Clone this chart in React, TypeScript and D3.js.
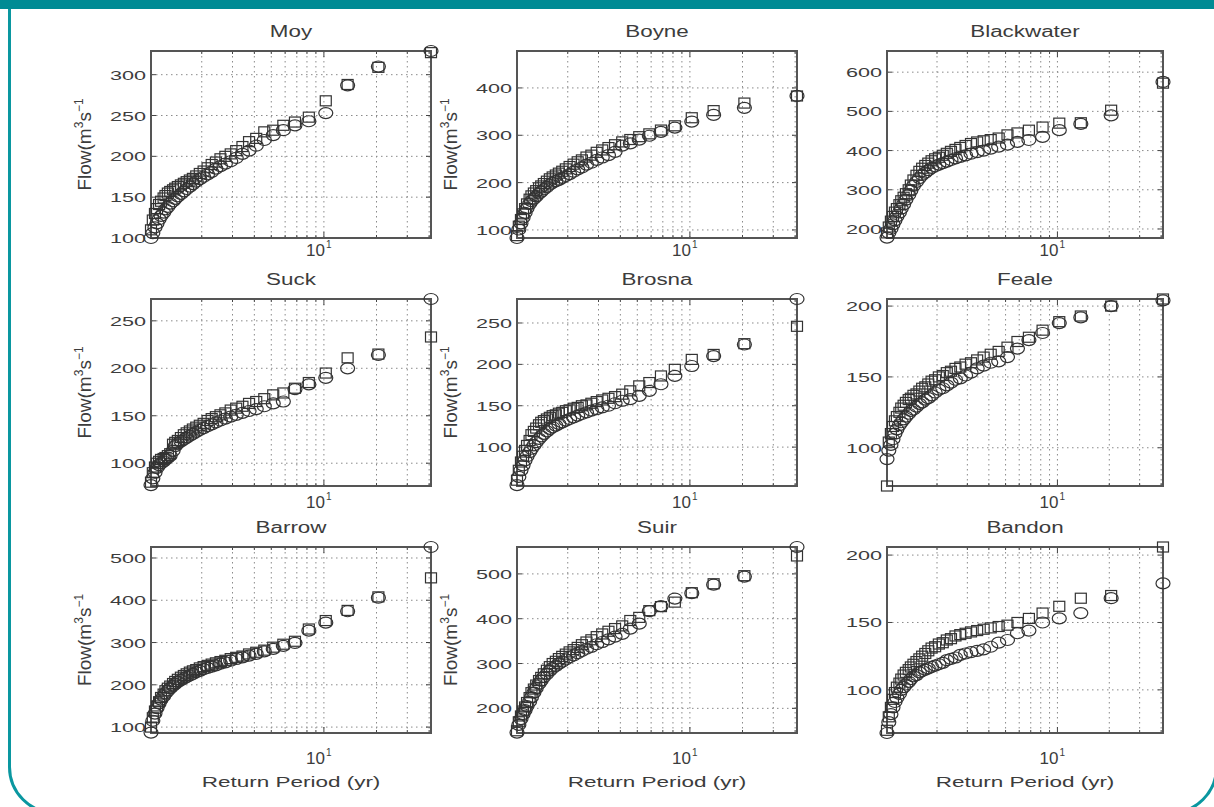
import React from 'react';
import * as d3 from 'd3';

// ---------- data ----------
const panelNames = ['Moy', 'Boyne', 'Blackwater', 'Suck', 'Brosna', 'Feale', 'Barrow', 'Suir', 'Bandon'];

// return periods (yr) of ranked annual maxima, rank 1..40
const returnPeriods = [41, 20.5, 13.67, 10.25, 8.2, 6.83, 5.86, 5.13, 4.56, 4.1, 3.73, 3.42, 3.15, 2.93, 2.73, 2.56, 2.41, 2.28, 2.16, 2.05,
  1.95, 1.86, 1.78, 1.71, 1.64, 1.58, 1.52, 1.46, 1.41, 1.37, 1.32, 1.28, 1.24, 1.21, 1.17, 1.14, 1.11, 1.08, 1.05, 1.025];

const moySquares = [327, 309, 288, 268, 248, 242, 238, 232, 230, 222, 218, 212, 207, 203, 200, 197, 193, 190, 186, 182, 179, 176, 173, 171, 169, 167, 165, 163, 161, 159, 157, 155, 152, 149, 145, 141, 136, 130, 122, 110];
const moyCircles = [329, 310, 287, 253, 243, 238, 232, 226, 220, 213, 207, 203, 198, 194, 191, 188, 185, 181, 178, 175, 172, 169, 166, 163, 160, 157, 154, 151, 148, 145, 142, 138, 135, 131, 127, 123, 118, 113, 106, 100];

const boyneSquares = [383, 368, 352, 337, 320, 311, 303, 297, 291, 286, 280, 274, 269, 264, 258, 254, 248, 244, 239, 234, 229, 224, 220, 216, 212, 208, 203, 198, 193, 189, 183, 178, 172, 165, 155, 145, 134, 122, 108, 88];
const boyneCircles = [383, 358, 343, 329, 316, 307, 299, 291, 283, 278, 265, 258, 253, 248, 242, 238, 232, 228, 223, 218, 214, 210, 206, 203, 200, 196, 191, 186, 181, 177, 171, 166, 161, 155, 146, 136, 126, 114, 101, 83];

const blackwaterSquares = [572, 503, 471, 470, 460, 452, 445, 440, 432, 428, 425, 422, 418, 413, 408, 403, 398, 393, 388, 383, 379, 374, 368, 362, 355, 347, 337, 325, 312, 300, 290, 281, 272, 262, 252, 243, 232, 220, 205, 190];
const blackwaterCircles = [575, 490, 468, 452, 435, 427, 422, 415, 410, 405, 400, 396, 392, 388, 384, 380, 376, 372, 368, 364, 360, 356, 350, 344, 338, 330, 320, 310, 298, 287, 275, 263, 252, 242, 232, 222, 212, 200, 190, 178];

const suckSquares = [233, 215, 211, 195, 185, 179, 174, 172, 168, 165, 163, 160, 158, 156, 153, 151, 149, 147, 145, 142, 140, 138, 136, 134, 132, 130, 127, 124, 122, 120, 110, 108, 106, 105, 104, 102, 100, 96, 90, 80];
const suckCircles = [273, 214, 200, 190, 183, 178, 165, 163, 160, 157, 155, 153, 151, 149, 147, 145, 143, 141, 139, 137, 135, 133, 131, 129, 127, 125, 123, 121, 118, 113, 108, 106, 104, 102, 100, 98, 95, 90, 84, 77];

const brosnaSquares = [246, 225, 212, 206, 194, 186, 178, 174, 168, 164, 161, 159, 157, 155, 153, 151, 150, 148, 147, 145, 144, 142, 141, 139, 138, 136, 134, 132, 130, 127, 123, 119, 115, 108, 102, 96, 89, 82, 72, 60];
const brosnaCircles = [279, 224, 210, 198, 186, 176, 168, 162, 158, 156, 153, 150, 148, 146, 144, 142, 140, 138, 136, 134, 132, 130, 128, 126, 124, 122, 119, 116, 113, 110, 106, 102, 98, 94, 89, 84, 78, 72, 64, 54];

const fealeSquares = [205, 200, 193, 189, 183, 178, 175, 171, 168, 166, 164, 162, 160, 159, 157, 156, 154, 153, 151, 150, 148, 147, 145, 143, 142, 140, 138, 137, 135, 134, 132, 130, 128, 125, 122, 119, 115, 110, 104, 73];
const fealeCircles = [204, 200, 192, 188, 181, 176, 170, 164, 161, 160, 158, 156, 153, 151, 149, 148, 146, 144, 142, 141, 139, 137, 135, 134, 132, 131, 129, 127, 126, 124, 122, 120, 118, 116, 113, 110, 106, 102, 98, 92];

const barrowSquares = [453, 408, 376, 352, 332, 303, 296, 289, 282, 277, 273, 268, 265, 262, 258, 255, 252, 249, 246, 243, 240, 236, 233, 230, 226, 222, 218, 213, 208, 203, 197, 192, 186, 178, 170, 160, 150, 138, 122, 100];
const barrowCircles = [526, 406, 374, 347, 328, 299, 292, 285, 279, 273, 269, 265, 261, 257, 253, 250, 246, 243, 240, 237, 233, 230, 226, 222, 219, 215, 211, 207, 202, 198, 192, 186, 180, 173, 165, 156, 145, 132, 115, 87];

const suirSquares = [540, 496, 478, 458, 437, 427, 418, 403, 396, 384, 378, 372, 366, 360, 353, 348, 342, 336, 331, 326, 321, 316, 311, 305, 300, 293, 285, 277, 269, 262, 252, 243, 235, 224, 213, 203, 194, 183, 170, 150];
const suirCircles = [560, 494, 476, 457, 445, 428, 417, 389, 378, 366, 360, 354, 348, 343, 337, 333, 328, 323, 318, 314, 309, 304, 300, 295, 290, 284, 277, 270, 262, 255, 245, 235, 225, 215, 205, 196, 187, 176, 163, 146];

const bandonSquares = [206, 170, 168, 162, 157, 153, 150, 148, 147, 146, 145, 144, 143, 142, 141, 140, 138, 137, 135, 134, 132, 131, 129, 127, 125, 123, 121, 119, 117, 115, 113, 111, 108, 105, 102, 98, 93, 87, 80, 70];
const bandonCircles = [179, 168, 157, 153, 150, 144, 142, 137, 135, 132, 130, 129, 128, 127, 126, 124, 123, 122, 120, 119, 118, 117, 116, 115, 114, 113, 111, 110, 108, 106, 104, 102, 100, 97, 94, 91, 87, 82, 76, 68];

const squareSeries = [moySquares, boyneSquares, blackwaterSquares, suckSquares, brosnaSquares, fealeSquares, barrowSquares, suirSquares, bandonSquares];
const circleSeries = [moyCircles, boyneCircles, blackwaterCircles, suckCircles, brosnaCircles, fealeCircles, barrowCircles, suirCircles, bandonCircles];

const yDomains = [[100, 329], [83, 478], [177, 654], [76, 273], [53, 279], [73, 205], [86, 526], [145, 560], [68, 206]];
const yTicks = [
  [100, 150, 200, 250, 300],
  [100, 200, 300, 400],
  [200, 300, 400, 500, 600],
  [100, 150, 200, 250],
  [100, 150, 200, 250],
  [100, 150, 200],
  [100, 200, 300, 400, 500],
  [200, 300, 400, 500],
  [100, 150, 200],
];
const xGridValues = [2, 3, 4, 5, 6, 7, 8, 9, 10, 20, 30, 40];
const xMajorTick = 10;

// ---------- layout ----------
const W = 1214;
const H = 807;
const colX = [151, 517, 887];
const colW = [280, 280, 276];
const rowY = [51, 299, 547];
const rowH = [187, 187, 186];
const xTickLabelOffset = [18, 22, 31];
const TEXT = '#3c3c3c';
const FONT = '"Liberation Sans", Arial, Helvetica, sans-serif';

function Panel({ idx }: { idx: number }) {
  const col = idx % 3;
  const row = Math.floor(idx / 3);
  const x0 = colX[col];
  const w = colW[col];
  const y0 = rowY[row];
  const h = rowH[row];
  const xExt = d3.extent(returnPeriods) as [number, number];
  const x = d3.scaleLog().domain(xExt).range([x0, x0 + w]);
  const y = d3.scaleLinear().domain(yDomains[idx]).range([y0 + h, y0]);
  const sq = squareSeries[idx];
  const ci = circleSeries[idx];
  const tx = x(xMajorTick);
  return (
    <g>
      <rect x={x0} y={y0} width={w} height={h} fill="#fff" />
      {/* grid */}
      {xGridValues.map((v) => (
        <line key={'gx' + v} x1={x(v)} x2={x(v)} y1={y0} y2={y0 + h} stroke="#8a8a8a" strokeWidth={1} strokeDasharray="1.5,3.5" />
      ))}
      {yTicks[idx].map((v) => (
        <line key={'gy' + v} x1={x0} x2={x0 + w} y1={y(v)} y2={y(v)} stroke="#8a8a8a" strokeWidth={1} strokeDasharray="1.5,3.5" />
      ))}
      {/* ticks */}
      {xGridValues.map((v) => {
        const len = v === xMajorTick ? 6 : 3;
        return (
          <g key={'tx' + v}>
            <line x1={x(v)} x2={x(v)} y1={y0 + h} y2={y0 + h - len} stroke="#444" />
            <line x1={x(v)} x2={x(v)} y1={y0} y2={y0 + len} stroke="#444" />
          </g>
        );
      })}
      {yTicks[idx].map((v) => (
        <g key={'ty' + v}>
          <line x1={x0} x2={x0 + 5} y1={y(v)} y2={y(v)} stroke="#444" />
          <line x1={x0 + w} x2={x0 + w - 5} y1={y(v)} y2={y(v)} stroke="#444" />
        </g>
      ))}
      {/* box */}
      <rect x={x0} y={y0} width={w} height={h} fill="none" stroke="#555" strokeWidth={2} />
      {/* markers */}
      {sq.map((v, i) => (
        <rect key={'s' + i} x={x(returnPeriods[i]) - 5.5} y={y(v) - 5} width={11} height={10} fill="none" stroke="#333" strokeWidth={1.2} />
      ))}
      {ci.map((v, i) => (
        <ellipse key={'c' + i} cx={x(returnPeriods[i])} cy={y(v)} rx={7} ry={5.5} fill="none" stroke="#333" strokeWidth={1.2} />
      ))}
      {/* y tick labels */}
      {yTicks[idx].map((v) => (
        <text key={'ly' + v} transform={`translate(${x0 - 5},${y(v) + 5}) scale(1.6,1)`} textAnchor="end" fontSize={13.5} fill={TEXT} fontFamily={FONT}>
          {v}
        </text>
      ))}
      {/* x tick label 10^1 */}
      <text x={tx + 1} y={y0 + h + xTickLabelOffset[row]} textAnchor="end" fontSize={17} fill={TEXT} fontFamily={FONT}>10</text>
      <text x={tx + 2} y={y0 + h + xTickLabelOffset[row] - 8} fontSize={10} fill={TEXT} fontFamily={FONT}>1</text>
      {/* title */}
      <text transform={`translate(${x0 + w / 2},${y0 - 14}) scale(1.4,1)`} textAnchor="middle" fontSize={16} fill={TEXT} fontFamily={FONT}>
        {panelNames[idx]}
      </text>
      {/* y label */}
      {col < 2 && (
        <text transform={`translate(${x0 - 60},${y0 + h / 2}) rotate(-90)`} textAnchor="middle" fontSize={19} fill={TEXT} fontFamily={FONT}>
          Flow(m<tspan dy={-8} fontSize={12}>3</tspan><tspan dy={8}>s</tspan><tspan dy={-8} fontSize={12}>−1</tspan>
        </text>
      )}
      {/* x label */}
      {row === 2 && (
        <text transform={`translate(${x0 + w / 2},${y0 + h + 54}) scale(1.5,1)`} textAnchor="middle" fontSize={15} fill={TEXT} fontFamily={FONT}>
          Return Period (yr)
        </text>
      )}
    </g>
  );
}

export default function App() {
  const frame = `M9.5,9 V767 A46,46 0 0 0 55.5,813 H1170.5 A46,46 0 0 0 1216.5,767 V9`;
  return (
    <svg width={W} height={H} style={{ position: 'absolute', left: 0, top: 0, background: '#fff' }}>
      <rect x={0} y={0} width={W} height={H} fill="#fff" />
      <path d={frame} fill="none" stroke="#0a97a0" strokeWidth={3} />
      <rect x={0} y={0} width={W} height={9} fill="#008b94" />
      {panelNames.map((_, i) => (
        <Panel key={i} idx={i} />
      ))}
    </svg>
  );
}
